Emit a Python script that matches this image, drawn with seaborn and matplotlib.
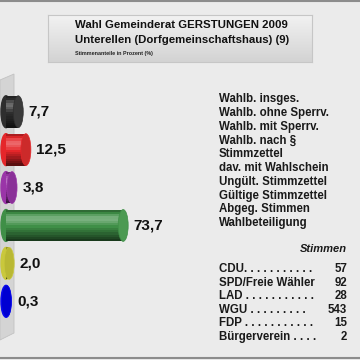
import numpy as np
import pandas as pd
import matplotlib
matplotlib.use("Agg")
import matplotlib.pyplot as plt
import seaborn as sns
from matplotlib.patches import Ellipse, Polygon
from matplotlib.lines import Line2D

# data
parties = ["CDU", "SPD/Freie Wähler", "LAD", "WGU", "FDP", "Bürgerverein"]
shares = [7.7, 12.5, 3.8, 73.7, 2.0, 0.3]
votes = [57, 92, 28, 543, 15, 2]
table_names = ["CDU. . . . . . . . . . .", "SPD/Freie Wähler", "LAD . . . . . . . . . . .",
               "WGU . . . . . . . . .", "FDP . . . . . . . . . . .", "Bürgerverein . . . ."]
body_colors = ["#2e2e2e", "#e5262a", "#9a35a8", "#3f8f47", "#c9c83c", "#0b0bf0"]
cap_colors = ["#3a3a3a", "#cc2a2a", "#8a3198", "#4c9a52", "#b9b834", "#0000d2"]
info_lines = ["Wahlb. insges.", "Wahlb. ohne Sperrv.", "Wahlb. mit Sperrv.", "Wahlb. nach §",
              "Stimmzettel", "dav. mit Wahlschein", "Ungült. Stimmzettel",
              "Gültige Stimmzettel", "Abgeg. Stimmen", "Wahlbeteiligung"]

FONT = ["Liberation Sans", "DejaVu Sans"]
BG = "#ebebeb"
W = 360.0

df = pd.DataFrame({"party": parties, "share": shares})

fig = plt.figure(figsize=(3.6, 3.6), dpi=100, facecolor=BG)

# frame lines top and bottom
fig.add_artist(Line2D([0, 1], [0.998, 0.998], color="#8c8c8c", lw=1.5))
fig.add_artist(Line2D([0, 1], [1 - 357.5 / W, 1 - 357.5 / W], color="#8c8c8c", lw=1.5))

# left wall (behind the bars)
wall = Polygon([(0, 1 - 80 / W), (14 / W, 1 - 74 / W), (14 / W, 1 - 333 / W), (0, 1 - 340 / W)],
               closed=True, transform=fig.transFigure, facecolor="#d4d4d4",
               edgecolor="#c2c2c2", lw=0.6, zorder=-1)
fig.add_artist(wall)

# title box with gradient
tax = fig.add_axes([48 / W, 1 - 62 / W, 264 / W, 47 / W])
grad = np.linspace(0, 1, 50).reshape(-1, 1)
tax.imshow(grad, aspect="auto", cmap=matplotlib.colors.LinearSegmentedColormap.from_list(
    "g", ["#f2f2f2", "#d3d3d3"]), extent=[0, 1, 0, 1])
for s in tax.spines.values():
    s.set_color("#c6c6c6")
tax.set_xticks([])
tax.set_yticks([])
fig.text(75 / W, 1 - 25.5 / W, "Wahl Gemeinderat GERSTUNGEN 2009", fontsize=8.2,
         fontweight="bold", family=FONT, va="center", color="#111111")
fig.text(75 / W, 1 - 40 / W, "Unterellen (Dorfgemeinschaftshaus) (9)", fontsize=8.2,
         fontweight="bold", family=FONT, va="center", color="#111111")
fig.text(75 / W, 1 - 53 / W, "Stimmenanteile in Prozent (%)", fontsize=3.9,
         fontweight="bold", family=FONT, va="center", color="#222222")

# bars
s_px = 1.59  # px per percent
bh = 0.84
ax = fig.add_axes([0, 1 - 328.3 / W, 200 / W, 243.6 / W])
ax.set_facecolor("none")
sns.barplot(data=df, y="party", x="share", hue="party", palette=body_colors,
            orient="h", width=bh, legend=False, ax=ax, saturation=1, zorder=2)
ax.set_xlim(-6 / s_px, 194 / s_px)
ew = 10 / s_px

# cylinder shading: thin strips, light near the top, dark at the bottom
n_strip = 14
shade = [-0.25, -0.05, 0.15, 0.28, 0.3, 0.22, 0.1, 0.0, -0.1, -0.2, -0.3, -0.4, -0.5, -0.6]
sh = bh / n_strip
for i, v in enumerate(shares):
    ax.add_patch(Ellipse((0, i), ew, bh, color=body_colors[i], zorder=1))
    for k, a in enumerate(shade):
        yk = i - bh / 2 + (k + 0.5) * sh
        ax.barh(yk, v, height=sh * 1.02, color="white" if a > 0 else "black",
                alpha=abs(a), zorder=3, lw=0)
    ax.add_patch(Ellipse((v, i), ew, bh, facecolor=cap_colors[i],
                         edgecolor=body_colors[i], lw=0.5, zorder=4))
    ax.annotate(f"{v:.1f}".replace(".", ","), xy=(v, i), xytext=(7.5, 0),
                textcoords="offset points", va="center", ha="left", fontsize=11,
                fontweight="bold", family=FONT, color="#111111")
ax.axis("off")

# info list
for i, line in enumerate(info_lines):
    fig.text(219 / W, 1 - (99 + 13.8 * i) / W, line, fontsize=8.3, fontweight="bold",
             family=FONT, va="center", color="#1a1a1a")

# vote table
fig.text(347 / W, 1 - 249 / W, "Stimmen", fontsize=8, fontweight="bold", fontstyle="italic",
         family=FONT, va="center", ha="right", color="#1a1a1a")
for i, (name, n) in enumerate(zip(table_names, votes)):
    y = 1 - (269 + 13.6 * i) / W
    fig.text(219 / W, y, name, fontsize=8.3, fontweight="bold", family=FONT,
             va="center", color="#1a1a1a")
    fig.text(347 / W, y, str(n), fontsize=8.3, fontweight="bold", family=FONT,
             va="center", ha="right", color="#1a1a1a")

fig.savefig("out.png", dpi=100, facecolor=BG)
